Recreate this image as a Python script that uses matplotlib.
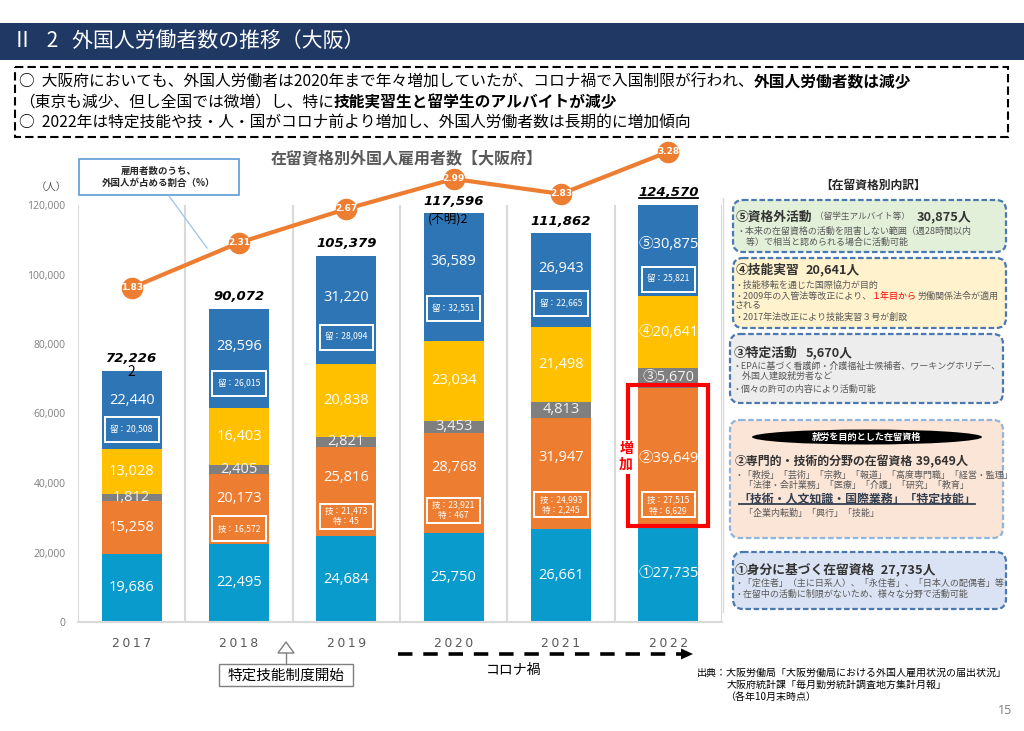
import matplotlib
matplotlib.use('Agg')
import matplotlib.pyplot as plt
from matplotlib.patches import FancyBboxPatch, Rectangle, Ellipse, Polygon
from matplotlib.lines import Line2D
from matplotlib.transforms import IdentityTransform
from matplotlib.ticker import FuncFormatter
import numpy as np

plt.rcParams['font.family'] = ['Noto Sans CJK JP', 'DejaVu Sans']

# ---------------- data ----------------
years = ['2017', '2018', '2019', '2020', '2021', '2022']
mibun = [19686, 22495, 24684, 25750, 26661, 27735]          # ① 身分に基づく在留資格
senmon = [15258, 20173, 25816, 28768, 31947, 39649]         # ② 専門的・技術的分野
tokutei_katsudo = [1812, 2405, 2821, 3453, 4813, 5670]      # ③ 特定活動
gino_jisshu = [13028, 16403, 20838, 23034, 21498, 20641]    # ④ 技能実習
shikakugai = [22440, 28596, 31220, 36589, 26943, 30875]     # ⑤ 資格外活動
fumei = [2, 0, 0, 2, 0, 0]                                  # 不明
totals = [72226, 90072, 105379, 117596, 111862, 124570]
ratio = [1.83, 2.31, 2.67, 2.99, 2.83, 3.28]                # 外国人が占める割合(%)
ryugaku = [20508, 26015, 28094, 32551, 22665, 25821]        # 留
gijinkoku = [None, 16572, 21473, 23921, 24993, 27515]       # 技
tokutei_gino = [None, None, 45, 467, 2245, 6629]            # 特

W, H = 1024, 731
fig = plt.figure(figsize=(W / 100, H / 100), dpi=100)
fig.patch.set_facecolor('white')


def fx(px):
    return px / W


def fy(py):
    return 1 - py / H


ax = fig.add_axes([fx(78), fy(622), fx(722) - fx(78), fy(205) - fy(622)])
xs = np.arange(len(years))
series = [mibun, senmon, tokutei_katsudo, gino_jisshu, shikakugai]
colors = ['#0A9BCD', '#ED7D31', '#7F7F7F', '#FFC000', '#2E75B6']
bar_w = 0.56
bottoms = []
cum = np.zeros(len(years))
for vals, col in zip(series, colors):
    bottoms.append(cum.copy())
    ax.bar(xs, vals, bar_w, bottom=cum, color=col, zorder=2, linewidth=0)
    cum = cum + np.array(vals)

YMAX = 120000
ax.set_xlim(-0.5, 5.5)
ax.set_ylim(0, YMAX)
ax.set_yticks(np.arange(0, YMAX + 1, 20000))
ax.yaxis.set_major_formatter(FuncFormatter(lambda v, p: f'{int(v):,}'))
ax.set_xticks(xs)
ax.set_xticklabels(['\u2009'.join(y) for y in years])
ax.set_xticks(np.arange(-0.5, 5.6, 1), minor=True)
ax.grid(which='minor', axis='x', color='#D9D9D9', lw=1.5, zorder=0)
ax.grid(which='major', axis='both', visible=False)
ax.tick_params(which='both', length=0)
ax.tick_params(axis='y', pad=9, labelsize=7.5, labelcolor='#7F7F7F')
ax.tick_params(axis='x', pad=11, labelsize=9, labelcolor='#595959')
for lbl in ax.get_yticklabels():
    lbl.set_family(['Open Sans', 'DejaVu Sans'])
for lbl in ax.get_xticklabels():
    lbl.set_family(['DejaVu Sans'])
for s in ['top', 'right', 'left']:
    ax.spines[s].set_visible(False)
ax.spines['bottom'].set_color('#D9D9D9')
ax.spines['bottom'].set_linewidth(1.5)

NUMF = ['Open Sans', 'Noto Sans CJK JP', 'DejaVu Sans']
circ = ['①', '②', '③', '④', '⑤']
last = len(years) - 1
px_per_unit = 417 / YMAX


def seglabel(i, k, frac, fs=10.5, color='white'):
    pre = circ[k] if i == last else ''
    y = bottoms[k][i] + series[k][i] * frac
    ax.text(xs[i], y, f'{pre}{series[k][i]:,}', ha='center', va='center',
            color=color, fontsize=fs, family=NUMF, zorder=4)


def boxlabel(i, y, s, h_px=25):
    bw = 0.5
    bh = h_px / px_per_unit
    ax.add_patch(Rectangle((xs[i] - bw / 2, y - bh / 2), bw, bh, fill=False,
                           ec='white', lw=1.4, zorder=4))
    ax.text(xs[i], y, s, ha='center', va='center', color='white', fontsize=6.2,
            family=['Noto Sans CJK JP'], linespacing=1.25, zorder=4)


for i in range(len(years)):
    is_last = (i == last)
    seglabel(i, 0, 0.5)
    if gijinkoku[i] is None:
        seglabel(i, 1, 0.5)
    else:
        seglabel(i, 1, 0.49 if is_last else 0.65)
        yb = bottoms[1][i] + senmon[i] * (0.15 if is_last else 0.22)
        s = f'技：{gijinkoku[i]:,}'
        if tokutei_gino[i] is not None:
            s += f'\n特：{tokutei_gino[i]:,}'
        boxlabel(i, yb, s)
    seglabel(i, 2, 0.5, color='#F2F2F2')
    seglabel(i, 3, 0.5)
    seglabel(i, 4, 0.485 if is_last else 0.62)
    yb = bottoms[4][i] + shikakugai[i] * (0.16 if is_last else 0.25)
    boxlabel(i, yb, f'留：{ryugaku[i]:,}')

total_texts = []
for i in range(len(years)):
    top = min(totals[i], YMAX)
    t = ax.annotate(f'{totals[i]:,}', (xs[i], top), xytext=(0, 4),
                    textcoords='offset points', ha='center', va='bottom',
                    fontsize=9.5, fontweight='bold', style='italic',
                    family=['DejaVu Sans'], zorder=5, annotation_clip=False)
    total_texts.append(t)

ax.text(xs[0], totals[0] - 400, f'{fumei[0]}', ha='center', va='center', fontsize=10,
        color='black', zorder=5)
ax.text(xs[3] - 0.05, totals[3] - 1500, f'(不明){fumei[3]}', ha='center', va='center',
        fontsize=9, color='black', zorder=5)

rx0 = xs[last] - 0.373
ax.add_patch(Rectangle((rx0, bottoms[1][last] - 120), 0.746,
                       senmon[last] + 900, fill=False, ec='#FF0000', lw=3,
                       zorder=6, clip_on=False))
ax.text(rx0 - 0.02, bottoms[1][last] + senmon[last] * 0.5, '増\n加', color='#FF0000',
        fontsize=10, fontweight='bold', ha='center', va='center', linespacing=1.15,
        zorder=7, bbox=dict(boxstyle='square,pad=0.15', fc='white', ec='none'))

ax2 = ax.twinx()
ax2.set_ylim(-1.734, 2.712)
ax2.set_axis_off()
ax2.plot(xs, ratio, color='#ED7D31', lw=3, marker='o', ms=14.5,
         markerfacecolor='#ED7D31', markeredgecolor='#ED7D31', clip_on=False, zorder=5)
for i, r in enumerate(ratio):
    ax2.text(xs[i], r, f'{r:.2f}', ha='center', va='center', color='white',
             fontsize=6.5, fontweight='bold', family=['DejaVu Sans'], clip_on=False, zorder=6)

# ---------------- overlay (slide elements) ----------------
ov = fig.add_axes([0, 0, 1, 1], zorder=10)
ov.set_xlim(0, W)
ov.set_ylim(H, 0)
ov.set_axis_off()

ov.add_patch(Rectangle((0, 23), W, 37, fc='#203864', ec='none'))
ov.text(12, 42, 'Ⅱ   2   外国人労働者数の推移（大阪）', color='white', fontsize=15,
        va='center', ha='left')

ov.add_patch(Rectangle((15, 67), 993, 70, fill=False, ec='black', lw=1.5,
                       ls=(0, (4, 2))))


def chain(parts, x, y, size, color='black'):
    s0, w0 = parts[0][0], parts[0][1]
    c0 = parts[0][2] if len(parts[0]) > 2 else color
    fs0 = parts[0][3] if len(parts[0]) > 3 else size
    prev = ov.text(x, y, s0, fontsize=fs0, fontweight=w0, va='center', ha='left', color=c0)
    for p in parts[1:]:
        c = p[2] if len(p) > 2 else color
        fs = p[3] if len(p) > 3 else size
        prev = ov.annotate(p[0], xy=(1, 0.5), xycoords=prev, va='center', ha='left',
                           fontsize=fs, fontweight=p[1], color=c)
    return prev


SZ = 11.3
chain([('○  大阪府においても、外国人労働者は2020年まで年々増加していたが、コロナ禍で入国制限が行われ、', 'normal'),
       ('外国人労働者数は減少', 'bold')], 19, 82, SZ)
chain([('（東京も減少、但し全国では微増）し、特に', 'normal'),
       ('技能実習生と留学生のアルバイトが減少', 'bold')], 19, 102, SZ)
chain([('○  2022年は特定技能や技・人・国がコロナ前より増加し、外国人労働者数は長期的に増加傾向', 'normal')],
      19, 122, SZ)

ov.text(407, 158, '在留資格別外国人雇用者数【大阪府】', fontsize=11.5, fontweight='bold',
        color='#595959', ha='center', va='center')
ov.text(51, 188, '（人）', fontsize=7.5, color='#595959', ha='center', va='center')

ov.add_patch(Rectangle((79, 159), 160, 36, fc='white', ec='#5B9BD5', lw=1.2))
ov.text(159, 177, '雇用者数のうち、\n外国人が占める割合（%）', fontsize=6.8, fontweight='bold',
        ha='center', va='center', linespacing=1.35, color='#262626')
ov.plot([169, 207], [196, 248], color='#9DC3E6', lw=0.9)

ov.add_patch(Polygon([(278, 653), (294, 653), (286, 642)], closed=True, fc='white',
                     ec='#7F7F7F', lw=1))
ov.plot([286, 286], [653, 664], color='#7F7F7F', lw=1)
ov.add_patch(Rectangle((219, 664), 134, 22, fc='white', ec='#7F7F7F', lw=1))
ov.text(286, 675.5, '特定技能制度開始', fontsize=10.5, ha='center', va='center')

ov.plot([398, 682], [654, 654], color='black', lw=2.6, ls=(0, (4, 3)))
ov.add_patch(Polygon([(681, 648.5), (693, 654), (681, 659.5)], closed=True,
                     fc='black', ec='none'))
ov.text(514, 670, 'コロナ禍', fontsize=10, ha='center', va='center')

ov.plot([723, 723], [198, 612], color='#D9D9D9', lw=1)
ov.text(873, 185, '【在留資格別内訳】', fontsize=8.5, fontweight='bold', ha='center',
        va='center', color='#262626')


def rbox(x0, y0, x1, y1, fc, ec='#4A78B0'):
    ov.add_patch(FancyBboxPatch((x0, y0), x1 - x0, y1 - y0,
                                boxstyle='round,pad=0,rounding_size=10',
                                fc=fc, ec=ec, lw=1.6, ls=(0, (2.5, 1.2))))


TC = '#333333'
SC = '#595959'
TS = 9.2
SS = 6.5

rbox(733, 200, 1006, 252, '#E2F0D9')
ov.text(736, 217, '⑤資格外活動', fontsize=TS, fontweight='bold', color=TC, va='center')
ov.text(815, 217, '（留学生アルバイト等）', fontsize=6.2, color=SC, va='center')
ov.text(917, 217, '30,875人', fontsize=TS, fontweight='bold', color=TC, va='center')
ov.text(737, 231, '・本来の在留資格の活動を阻害しない範囲（週28時間以内', fontsize=SS, color=SC, va='center')
ov.text(737, 242, '　等）で相当と認められる場合に活動可能', fontsize=SS, color=SC, va='center')

rbox(733, 258, 1006, 328, '#FFF2CC')
ov.text(736, 270, '④技能実習', fontsize=TS, fontweight='bold', color=TC, va='center')
ov.text(806, 270, '20,641人', fontsize=TS, fontweight='bold', color=TC, va='center')
ov.text(735, 285, '・技能移転を通じた国際協力が目的', fontsize=SS, color=SC, va='center')
chain([('・2009年の入管法等改正により、', 'normal', SC), ('１年目から', 'normal', '#FF0000'),
       ('労働関係法令が適用', 'normal', SC)], 735, 296, SS)
ov.text(735, 306, 'される', fontsize=SS, color=SC, va='center')
ov.text(735, 317, '・2017年法改正により技能実習３号が創設', fontsize=SS, color=SC, va='center')

rbox(730, 334, 1003, 403, '#EDEDED')
ov.text(734, 353, '③特定活動', fontsize=TS, fontweight='bold', color=TC, va='center')
ov.text(806, 353, '5,670人', fontsize=TS, fontweight='bold', color=TC, va='center')
ov.text(733, 366, '・EPAに基づく看護師・介護福祉士候補者、ワーキングホリデー、', fontsize=SS, color=SC, va='center')
ov.text(733, 376, '　外国人建設就労者など', fontsize=SS, color=SC, va='center')
ov.text(733, 389, '・個々の許可の内容により活動可能', fontsize=SS, color=SC, va='center')

rbox(730, 420, 1003, 538, '#FBE5D6', ec='#8FB4DE')
ov.add_patch(Ellipse((867, 437), 230, 15, fc='black', ec='none'))
ov.text(867, 437, '就労を目的とした在留資格', fontsize=6.6, fontweight='bold', color='white',
        ha='center', va='center')
chain([('②専門的・技術的分野の在留資格', 'bold', TC, 8.6), (' 39,649人', 'bold', TC, 8.8)],
      735, 461, TS)
ov.text(735, 475, '・「教授」「芸術」「宗教」「報道」「高度専門職」「経営・監理」', fontsize=SS, color=SC, va='center')
ov.text(735, 485, '　「法律・会計業務」「医療」「介護」「研究」「教育」', fontsize=SS, color=SC, va='center')
kt = ov.text(738, 499, '「技術・人文知識・国際業務」「特定技能」', fontsize=8.6, fontweight='bold',
             color='#333F50', va='center')
ov.text(735, 513, '　「企業内転勤」「興行」「技能」', fontsize=SS, color=SC, va='center')

rbox(733, 552, 1006, 609, '#DAE3F3')
chain([('①身分に基づく在留資格', 'bold', TC, TS), ('  27,735人', 'bold', TC, TS)],
      735, 570, TS)
ov.text(735, 583, '・「定住者」（主に日系人）、「永住者」、「日本人の配偶者」等', fontsize=SS, color=SC, va='center')
ov.text(735, 594, '・在留中の活動に制限がないため、様々な分野で活動可能', fontsize=SS, color=SC, va='center')

SRC = 7.2
ov.text(697, 673, '出典：大阪労働局「大阪労働局における外国人雇用状況の届出状況」', fontsize=SRC, va='center')
ov.text(727, 685, '大阪府統計課「毎月勤労統計調査地方集計月報」', fontsize=SRC, va='center')
ov.text(725, 697, '（各年10月末時点）', fontsize=SRC, va='center')
ov.text(1012, 710, '15', fontsize=9, color='#7F7F7F', ha='right', va='center',
        family=['Open Sans', 'DejaVu Sans'])

fig.canvas.draw()
rend = fig.canvas.get_renderer()
for t in (total_texts[last], kt):
    bb = t.get_window_extent(rend)
    fig.add_artist(Line2D([bb.x0 + 1, bb.x1 - 1], [bb.y0 + 1.5, bb.y0 + 1.5],
                          transform=IdentityTransform(), color=t.get_color(), lw=1.3,
                          zorder=20))

fig.savefig('out.png', dpi=100, facecolor='white')
